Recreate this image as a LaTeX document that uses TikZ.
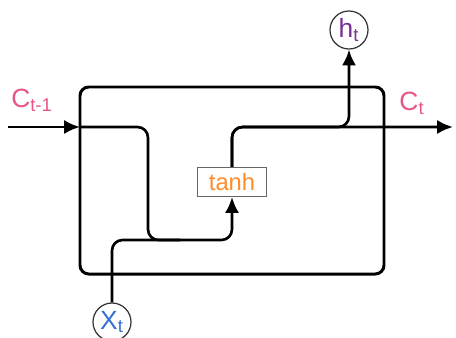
\documentclass[tikz,border=0pt]{standalone}
\usepackage{fontspec}
\setmainfont{Liberation Sans}
\usepackage{xcolor}
\usetikzlibrary{arrows.meta, positioning}
\definecolor{cpink}{RGB}{232,84,134}
\definecolor{hpurple}{RGB}{118,48,150}
\definecolor{xblue}{RGB}{52,112,212}
\definecolor{torange}{RGB}{255,140,40}
\tikzset{
  flow/.style={line width=1.5pt, rounded corners=6pt},
  gate/.style={draw=black!60, line width=0.6pt, minimum width=1.38cm, minimum height=0.58cm, inner sep=0pt, font=\fontsize{13.5}{15}\selectfont, text=torange},
  port/.style={draw=black!80, circle, line width=0.7pt, minimum size=0.76cm, inner sep=0pt, font=\fontsize{15}{17}\selectfont},
  lab/.style={font=\fontsize{15}{17}\selectfont, text=cpink}
}
\begin{document}
\begin{tikzpicture}[>={Latex[length=9pt,width=8pt]}]
\useasboundingbox (0,0) rectangle (9.12,6.74);
% 单元外框
\draw[line width=1.7pt, rounded corners=5pt] (1.6,1.26) rectangle (7.68,5.0);
% 门与端口
\node[gate] (tanh) at (4.64,3.1) {tanh};
\node[port, text=hpurple] (ht) at (6.98,6.14) {h\textsubscript{t}};
\node[port, text=xblue] (xt) at (2.24,0.3) {X\textsubscript{t}};
\node[lab] (cin) at (0.64,4.74) {C\textsubscript{t-1}};
\node[lab] (cout) at (8.24,4.68) {C\textsubscript{t}};
% 连线端点
\coordinate (c0) at (0.16,4.2);
\coordinate (c1) at (1.6,4.2);
\coordinate (c2) at (2.96,1.94);
\coordinate (c3) at (9.06,4.2);
\coordinate (xm) at (3.6,1.94);
% 输入 C
\draw[->, line width=1.5pt] (c0) -- (c1);
\draw[->, flow] (c1) -| (c2) -| (tanh.south);
% 输入 X
\draw[flow] (xt.north) |- (xm);
% 输出
\draw[->, flow] (tanh.north) |- (c3);
\draw[->, flow] (tanh.north) |- (ht.south |- c3) -- (ht.south);
\end{tikzpicture}
\end{document}
